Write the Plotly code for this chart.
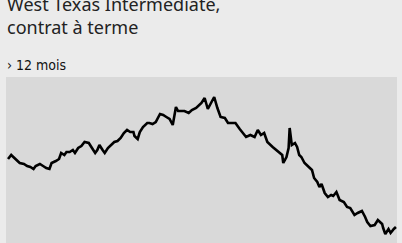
import plotly.graph_objects as go

# Day index over the 12-month window and WTI futures price (USD/bbl, estimated)
days = [0, 3, 6, 8, 11, 15, 18, 21, 24, 26, 30, 33, 36, 39, 41, 45, 48, 50, 53, 55,
        58, 61, 63, 66, 69, 72, 76, 79, 82, 84, 86, 89, 91, 94, 97, 100, 103, 106, 109, 112,
        115, 118, 119, 122, 124, 127, 131, 133, 136, 139, 143, 146, 149, 152, 155, 158, 160, 163, 166, 170,
        173, 177, 180, 182, 185, 188, 191, 194, 197, 200, 204, 207, 211, 214, 218, 221, 224, 228, 232, 235,
        238, 241, 244, 249, 254, 258, 259, 262, 264, 265, 267, 270, 272, 274, 276, 279, 283, 286, 288, 291,
        293, 295, 298, 301, 304, 306, 309, 312, 316, 319, 322, 326, 329, 333, 336, 338, 341, 345, 348, 352,
        353, 355, 358, 360, 363, 365]
prices = [82.6, 83.4, 82.8, 82.4, 81.8, 81.6, 81.2, 81.0, 80.6, 81.2, 81.6, 81.2, 80.8, 80.6, 81.8, 82.2, 82.6, 83.8, 83.4, 84.0,
          84.0, 84.4, 83.8, 84.8, 85.2, 86.0, 85.8, 84.8, 83.8, 84.4, 85.4, 84.4, 83.8, 84.8, 85.4, 86.0, 86.2, 86.8, 87.8, 88.4,
          88.0, 88.0, 87.2, 86.6, 88.0, 89.0, 89.8, 89.8, 89.6, 90.0, 91.6, 91.4, 91.0, 90.6, 89.4, 93.0, 92.2, 92.2, 92.2, 91.8,
          92.4, 92.8, 93.4, 93.8, 94.8, 92.6, 93.8, 95.0, 92.8, 91.0, 90.8, 89.8, 89.8, 89.8, 88.6, 87.8, 87.0, 87.4, 87.0, 88.4,
          87.4, 87.8, 86.0, 85.0, 84.2, 83.4, 81.8, 83.0, 84.8, 88.8, 85.4, 85.8, 85.0, 83.4, 83.0, 81.8, 81.0, 80.4, 78.8, 78.0,
          77.0, 77.6, 75.8, 75.0, 75.4, 75.2, 76.0, 74.4, 74.0, 73.0, 72.8, 71.4, 71.8, 72.2, 71.0, 70.0, 69.2, 69.4, 70.4, 69.6,
          68.8, 67.6, 68.6, 67.8, 68.6, 69.0]

title_line1 = "West Texas Intermediate,"
title_line2 = "contrat à terme"
period_text = "› 12 mois"

H = 243
PLOT_H = 166


def py(ypx):
    return (H - ypx) / PLOT_H


fig = go.Figure()
fig.add_trace(go.Scatter(x=days, y=prices, mode="lines",
                         line=dict(color="#000000", width=2.6),
                         hoverinfo="skip"))

title_font = dict(family="Noto Sans", size=18, color="#222222")

fig.update_layout(
    width=402, height=243,
    margin=dict(l=6, r=5, t=77, b=0, autoexpand=False),
    paper_bgcolor="#ebebeb",
    plot_bgcolor="#d9d9d9",
    showlegend=False,
    xaxis=dict(range=[-1.9, 366], visible=False, fixedrange=True),
    yaxis=dict(range=[65.8, 99], visible=False, fixedrange=True),
    annotations=[
        dict(text=title_line1, xref="paper", yref="paper", x=-0.003, y=py(4.5),
             xanchor="left", yanchor="middle", align="left", showarrow=False,
             font=title_font),
        dict(text=title_line2, xref="paper", yref="paper", x=-0.003, y=py(26.5),
             xanchor="left", yanchor="middle", align="left", showarrow=False,
             font=title_font),
        dict(text=period_text, xref="paper", yref="paper", x=-0.003, y=py(64.5),
             xanchor="left", yanchor="middle", align="left", showarrow=False,
             font=dict(family="DejaVu Sans Condensed, Liberation Sans Narrow, Roboto Condensed, Roboto",
                       size=14, color="#111111")),
    ],
)

fig.write_html("out.html", config={"displayModeBar": False, "staticPlot": True},
               post_script="document.body.style.margin='0';")
